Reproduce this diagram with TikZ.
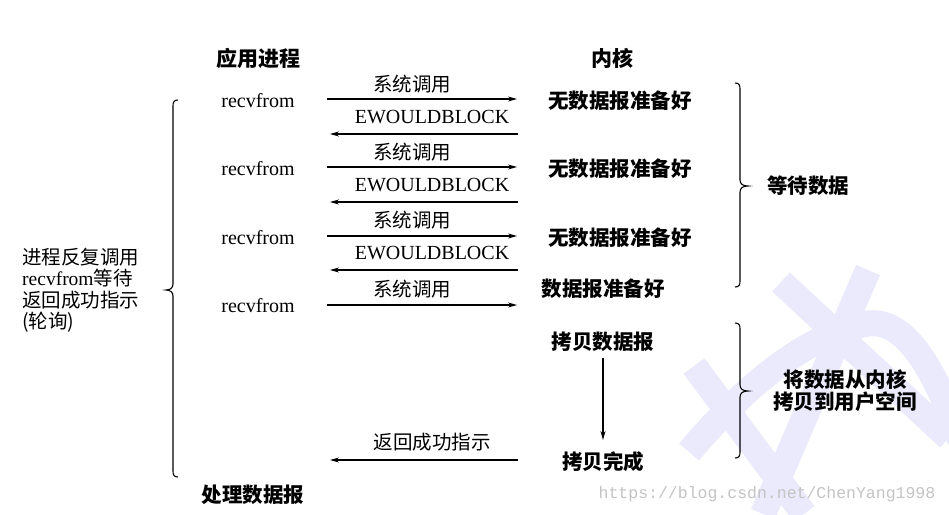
\documentclass[tikz,border=0pt]{standalone}
\usepackage{fontspec}
\setmainfont{Liberation Serif}
\newfontfamily\cjk{Noto Sans CJK SC}
\newfontfamily\urlfont{Liberation Mono}
\usetikzlibrary{arrows.meta}
\definecolor{wmc}{RGB}{234,234,252}
\definecolor{urlc}{RGB}{196,196,196}
\tikzset{
  zh/.style={font=\cjk\fontsize{19.5}{21.5}\selectfont, inner sep=0pt},
  zhk/.style={font=\cjk\bfseries\fontsize{20.5}{22}\selectfont, inner sep=0pt},
  zhb/.style={font=\cjk\bfseries\fontsize{21}{23}\selectfont, inner sep=0pt},
  lat/.style={font=\fontsize{20}{22}\selectfont, inner sep=0pt},
  msg/.style={line width=1.1pt, -{Stealth[length=9pt,width=5pt]}},
  bracestyle/.style={line width=1.1pt},
  wm/.style={line width=26pt, draw=wmc},
}
\begin{document}
\begin{tikzpicture}[x=1pt,y=-1pt]
\fill[white] (0,0) rectangle (949,514);
\useasboundingbox (0,0) rectangle (949,514);
% watermark
\draw[wm] (781,282) -- (949,438);
\draw[wm] (868,270) -- (763,514);
\draw[wm] (694,366) -- (804,514);
\draw[wm] (689,452) .. controls (740,392) and (800,338) .. (865,324) .. controls (905,316) and (935,370) .. (960,440);
\node[font=\urlfont\fontsize{16.5}{18}\selectfont, text=urlc, inner sep=0pt] (url) at (767,494) {https://blog.csdn.net/ChenYang1998};
% headings
\node[zhb] (app) at (258,58) {应用进程};
\node[zhb] (ker) at (612,58) {内核};
% row 1
\node[lat] (r1) at (258,101) {recvfrom};
\node[zhk] (k1) at (620,101) {无数据报准备好};
\node[zh] (s1) at (412,84) {系统调用};
\node[lat] (e1) at (432,117) {EWOULDBLOCK};
\coordinate (a1l) at (327,99); \coordinate (a1r) at (517,99);
\coordinate (b1r) at (518,134); \coordinate (b1l) at (330,134);
\draw[msg] (a1l) -- (a1r);
\draw[msg] (b1r) -- (b1l);
% row 2
\node[lat] (r2) at (258,169) {recvfrom};
\node[zhk] (k2) at (620,169) {无数据报准备好};
\node[zh] (s2) at (412,152) {系统调用};
\node[lat] (e2) at (432,185) {EWOULDBLOCK};
\coordinate (a2l) at (327,167); \coordinate (a2r) at (517,167);
\coordinate (b2r) at (518,202); \coordinate (b2l) at (330,202);
\draw[msg] (a2l) -- (a2r);
\draw[msg] (b2r) -- (b2l);
% row 3
\node[lat] (r3) at (258,238) {recvfrom};
\node[zhk] (k3) at (620,238) {无数据报准备好};
\node[zh] (s3) at (412,220) {系统调用};
\node[lat] (e3) at (432,253) {EWOULDBLOCK};
\coordinate (a3l) at (327,236); \coordinate (a3r) at (517,236);
\coordinate (b3r) at (518,270); \coordinate (b3l) at (330,270);
\draw[msg] (a3l) -- (a3r);
\draw[msg] (b3r) -- (b3l);
% row 4
\node[lat] (r4) at (258,306) {recvfrom};
\node[zhk] (k4) at (603,289) {数据报准备好};
\node[zh] (s4) at (412,289) {系统调用};
\coordinate (a4l) at (327,305); \coordinate (a4r) at (517,305);
\draw[msg] (a4l) -- (a4r);
% copy
\node[zhk] (cp) at (603,342) {拷贝数据报};
\node[zhk] (cd) at (603,462) {拷贝完成};
\coordinate (dtop) at (603,358); \coordinate (dbot) at (603,440);
\draw[msg] (dtop) -- (dbot);
\node[zh] (ok) at (432,442) {返回成功指示};
\coordinate (c5r) at (518,460); \coordinate (c5l) at (330,460);
\draw[msg] (c5r) -- (c5l);
\node[zhk] (proc) at (253,495) {处理数据报};
% left brace and text
\draw[bracestyle] (178,100) .. controls (174,100) and (173,102) .. (173,106) -- (173,284)
  .. controls (173,288) and (170,290) .. (166,290) .. controls (170,290) and (173,292) .. (173,296)
  -- (173,471) .. controls (173,475) and (174,477) .. (178,477);
\node[zh, align=left, anchor=west] (poll) at (22,290)
  {进程反复调用\\{\rmfamily recvfrom}等待\\返回成功指示\\(轮询)};
% right braces
\draw[bracestyle] (735,83) .. controls (739,83) and (740,85) .. (740,89) -- (740,180)
  .. controls (740,184) and (743,186) .. (748,186) .. controls (743,186) and (740,188) .. (740,192)
  -- (740,281) .. controls (740,285) and (739,287) .. (735,287);
\node[zhk] (wait) at (808,186) {等待数据};
\draw[bracestyle] (735,323) .. controls (739,323) and (740,325) .. (740,329) -- (740,385)
  .. controls (740,389) and (743,391) .. (748,391) .. controls (743,391) and (740,393) .. (740,397)
  -- (740,452) .. controls (740,456) and (739,458) .. (735,458);
\node[zhk, align=center] (copyl) at (845,391) {将数据从内核\\拷贝到用户空间};
\end{tikzpicture}
\end{document}
